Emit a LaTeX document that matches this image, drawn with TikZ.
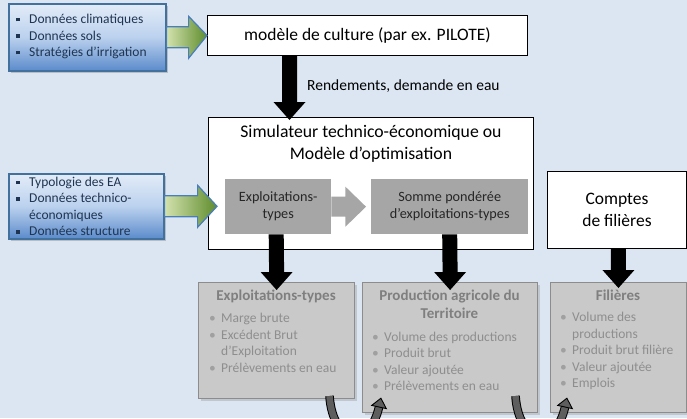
\documentclass[tikz,border=0pt]{standalone}
\usepackage{fontspec}
\setmainfont{Carlito}
\usetikzlibrary{shadows,calc}
\definecolor{bg}{HTML}{DCE6F2}
\definecolor{bluedge}{HTML}{41719C}
\definecolor{bluetop}{HTML}{E3ECF8}
\definecolor{bluemid}{HTML}{BBD1EE}
\definecolor{bluebot}{HTML}{5B8BCB}
\definecolor{bluetext}{HTML}{1F3450}
\definecolor{grnL}{HTML}{D3E2AE}
\definecolor{grnR}{HTML}{5E8C2C}
\definecolor{grnedge}{HTML}{4A7EBB}
\definecolor{innergray}{HTML}{A6A6A6}
\definecolor{innertext}{HTML}{262626}
\definecolor{botfill}{HTML}{C9C9C9}
\definecolor{botedge}{HTML}{8C8C8C}
\definecolor{bottitle}{HTML}{7F7F7F}
\definecolor{botitem}{HTML}{8E8E8E}
\definecolor{botbul}{HTML}{A0A0A0}
\definecolor{curvfill}{HTML}{5E5E5E}

\newcommand\sqbul{\makebox[13pt][l]{\raisebox{2.2pt}{\rule{3.6pt}{3.6pt}}}}
\newcommand\sqind{\hspace*{13pt}}
\newcommand\rdbul{\makebox[12pt][l]{\textcolor{botbul}{•}}}
\newcommand\rdind{\hspace*{12pt}}
\newcommand\fatdown[2]{%
  \fill[black] ($(#1)+(-7.5,0)$) -- ($(#1)+(7.5,0)$) -- ($(#2)+(7.5,-18)$) -- ($(#2)+(16,-18)$) -- (#2) -- ($(#2)+(-16,-18)$) -- ($(#2)+(-7.5,-18)$) -- cycle;}

\begin{document}
\begin{tikzpicture}[x=1pt,y=-1pt,
  blubox/.style={draw=bluedge, line width=1.6pt, top color=bluetop, bottom color=bluebot, middle color=bluemid,
     drop shadow={shadow xshift=2.5pt, shadow yshift=-2.5pt, opacity=0.4}, inner sep=0pt},
  listblue/.style={font=\fontsize{13.5}{16.5}\selectfont, text=bluetext, align=left, inner sep=0pt},
  whitebox/.style={draw=black, line width=0.9pt, fill=white, inner sep=0pt, align=center},
  graybox/.style={fill=innergray, draw=none, text=innertext, align=center, inner sep=0pt, font=\fontsize{14.2}{17}\selectfont},
  botbox/.style={fill=botfill, draw=botedge, line width=1.2pt, inner sep=0pt,
     drop shadow={shadow xshift=2pt, shadow yshift=-2pt, opacity=0.3}},
  ttl/.style={font=\bfseries\fontsize{15}{18}\selectfont, text=bottitle, align=center, inner sep=0pt},
  botlist/.style={font=\fontsize{13.5}{16.5}\selectfont, text=botitem, align=left, inner sep=0pt},
  grnarrow/.style={left color=grnL, right color=grnR, draw=grnedge, line width=1.2pt, line join=miter},
  curvline/.style={line width=8.6pt, black},
  curvcore/.style={line width=6.6pt, curvfill},
  curvhead/.style={fill=curvfill, draw=black, line width=0.9pt, line join=miter}
]
\fill[bg] (0,0) rectangle (687,418);
\useasboundingbox (0,0) rectangle (687,418);

% input boxes
\node[blubox, minimum width=157pt, minimum height=67pt, anchor=north west] (in1) at (8,3) {};
\node[listblue, anchor=west] (in1t) at (16,36.5) {\sqbul Données climatiques\\\sqbul Données sols\\\sqbul Stratégies d’irrigation};
\node[blubox, minimum width=155pt, minimum height=65pt, anchor=north west] (in2) at (8,173) {};
\node[listblue, anchor=west] (in2t) at (16,206.5) {\sqbul Typologie des EA\\\sqbul Données technico-\\\sqind économiques\\\sqbul Données structure};

% model boxes
\node[whitebox, minimum width=320pt, minimum height=40pt, anchor=north west, font=\fontsize{17.5}{21}\selectfont] (model) at (207,15) {modèle de culture (par ex. PILOTE)};
\node[whitebox, minimum width=325pt, minimum height=132pt, anchor=north west] (sim) at (208,117) {};
\node[font=\fontsize{17.7}{22}\selectfont, align=center, inner sep=0pt] (simt) at ($(sim.north)+(0,27)$) {Simulateur technico-économique ou\\Modèle d’optimisation};
\node[graybox, minimum width=106pt, minimum height=55pt, anchor=north west] (ex) at (225,179) {Exploitations-\\types};
\node[graybox, minimum width=157pt, minimum height=55pt, anchor=north west] (som) at (371,179) {Somme pondérée\\d’exploitations-types};
\node[whitebox, minimum width=139pt, minimum height=77pt, anchor=north west, font=\fontsize{17.5}{21.5}\selectfont] (cpt) at (547,171) {Comptes\\de filières};
\node[font=\fontsize{15.5}{18}\selectfont, anchor=west, inner sep=0pt] (lab) at (307,86) {Rendements, demande en eau};

% output boxes
\node[botbox, minimum width=156pt, minimum height=116pt, anchor=north west] (bt1) at (198,282) {};
\node[botbox, minimum width=175pt, minimum height=130pt, anchor=north west] (bt2) at (362,282) {};
\node[botbox, minimum width=136pt, minimum height=130pt, anchor=north west] (bt3) at (550,282) {};
\node[ttl] (bt1h) at (276,296) {Exploitations-types};
\node[ttl] (bt2h) at (449.5,304) {Production agricole du\\Territoire};
\node[ttl] (bt3h) at (618,295) {Filières};
\node[botlist, anchor=west] (bt1l) at (209,343) {\rdbul Marge brute\\\rdbul Excédent Brut\\\rdind d’Exploitation\\\rdbul Prélèvements en eau};
\node[botlist, anchor=west] (bt2l) at (372,361.5) {\rdbul Volume des productions\\\rdbul Produit brut\\\rdbul Valeur ajoutée\\\rdbul Prélèvements en eau};
\node[botlist, anchor=west] (bt3l) at (560,351) {\rdbul Volume des\\\rdind productions\\\rdbul Produit brut filière\\\rdbul Valeur ajoutée\\\rdbul Emplois};

% green arrows
\filldraw[grnarrow] ($(in1.east)+(0,-10.5)$) -- ($(in1.east)+(22,-10.5)$) -- ($(in1.east)+(22,-21)$) -- (model.west) -- ($(in1.east)+(22,21)$) -- ($(in1.east)+(22,10.5)$) -- ($(in1.east)+(0,10.5)$) -- cycle;
\coordinate (g2t) at ($(sim.west |- in2.east)+(9,0)$);
\filldraw[grnarrow] ($(in2.east)+(0,-10.5)$) -- ($(in2.east)+(33,-10.5)$) -- ($(in2.east)+(33,-21)$) -- (g2t) -- ($(in2.east)+(33,21)$) -- ($(in2.east)+(33,10.5)$) -- ($(in2.east)+(0,10.5)$) -- cycle;

% gray inner arrow
\coordinate (gat) at ($(som.west)+(-5,0)$);
\fill[innergray] ($(ex.east)+(0,-10)$) -- ($(ex.east)+(14,-10)$) -- ($(ex.east)+(14,-20)$) -- (gat) -- ($(ex.east)+(14,20)$) -- ($(ex.east)+(14,10)$) -- ($(ex.east)+(0,10)$) -- cycle;

% black arrows
\coordinate (aAs) at (289.5,0 |- model.south);
\coordinate (aAt) at ($(289.5,0 |- sim.north)+(0,3)$);
\fatdown{aAs}{aAt}
\coordinate (aBs) at ($(ex.south)+(-2,0)$);
\coordinate (aBt) at ($(bt1.north)+(0,8)$);
\fatdown{aBs}{aBt}
\coordinate (aCs) at (som.south);
\coordinate (aCt) at ($(bt2.north)+(0,8)$);
\fatdown{aCs}{aCt}
\coordinate (aDs) at ($(cpt.south)+(1.5,0)$);
\coordinate (aDt) at ($(aDs |- bt3.north)+(0,6)$);
\fatdown{aDs}{aDt}

% curved arrows
\coordinate (c1s) at (329.5,396);
\coordinate (c1e) at (379,407);
\draw[curvline] (c1s) .. controls (333,445) and (370,448) .. (c1e);
\draw[curvcore] (c1s) .. controls (333,445) and (370,448) .. (c1e);
\filldraw[curvhead] (371.7,405.4) -- (380.9,398.2) -- (386.3,408.6) -- cycle;
\coordinate (c2s) at (515.5,396);
\coordinate (c2e) at (565,407);
\draw[curvline] (c2s) .. controls (519,445) and (556,448) .. (c2e);
\draw[curvcore] (c2s) .. controls (519,445) and (556,448) .. (c2e);
\filldraw[curvhead] (557.7,405.4) -- (566.9,398.2) -- (572.3,408.6) -- cycle;
\end{tikzpicture}
\end{document}
